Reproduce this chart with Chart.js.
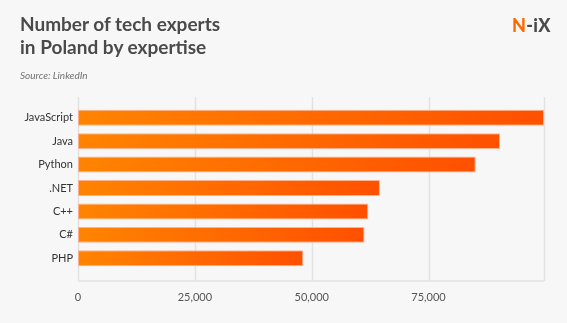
<!DOCTYPE html>
<html>
<head>
<meta charset="utf-8">
<script src="https://cdn.jsdelivr.net/npm/chart.js@4/dist/chart.umd.min.js"></script>
<style>
  html, body { margin: 0; padding: 0; background: #f7f7f7; }
  #wrap { position: relative; width: 567px; height: 323px; overflow: hidden; font-family: Lato, sans-serif; }
  #title { position: absolute; left: 20px; top: 12px; font-size: 19px; font-weight: bold; line-height: 23px; color: #4a4a4a; }
  #source { position: absolute; left: 20px; top: 69px; font-size: 10px; font-style: italic; color: #707070; }
  #logo { position: absolute; left: 512px; top: 14px; font-size: 18px; font-weight: 900; color: #4a4a4a; letter-spacing: 0.3px; }
  #logo span { color: #ff6a00; }
  canvas { position: absolute; left: 0; top: 0; }
</style>
</head>
<body>
<div id="wrap">
  <canvas id="chart" width="567" height="323"></canvas>
  <div id="title">Number of tech experts<br>in Poland by expertise</div>
  <div id="source">Source: LinkedIn</div>
  <div id="logo"><span>N</span>-iX</div>
</div>
<script>
var categories = ["JavaScript", "Java", "Python", ".NET", "C++", "C#", "PHP"];
var experts = [99700, 90300, 85100, 64600, 62100, 61300, 48200];
var tickValues = [0, 25000, 50000, 75000];

// orange -> red-orange along each bar
function barGradient(context) {
    var chart = context.chart,
        area = chart.chartArea,
        xScale = chart.scales.x;
    if (!area || !xScale || context.dataIndex === undefined) {
        return "#ff6a00";
    }
    var x0 = xScale.getPixelForValue(0),
        x1 = xScale.getPixelForValue(experts[context.dataIndex]);
    var g = chart.ctx.createLinearGradient(x0, 0, x1, 0);
    g.addColorStop(0, "#ff8400");
    g.addColorStop(1, "#ff5000");
    return g;
}

// grid lines run a little past the bars at top and bottom
var gridPlugin = {
    id: "extendedGrid",
    beforeDatasetsDraw: function (chart) {
        var ctx = chart.ctx,
            area = chart.chartArea,
            xScale = chart.scales.x,
            top = area.top - 9,
            bottom = area.bottom + 11;
        ctx.save();
        ctx.strokeStyle = "#e2e2e2";
        ctx.lineWidth = 1.5;
        xScale.ticks.forEach(function (t) {
            var x = Math.round(xScale.getPixelForValue(t.value)) + 0.5;
            ctx.beginPath();
            ctx.moveTo(x, top);
            ctx.lineTo(x, bottom);
            ctx.stroke();
        });
        ctx.beginPath();
        ctx.moveTo(area.left, bottom);
        ctx.lineTo(area.right, bottom);
        ctx.stroke();
        ctx.restore();
    }
};

new Chart("chart", {
    type: "bar",
    data: {
        labels: categories,
        datasets: [{
            data: experts,
            backgroundColor: barGradient,
            borderColor: "rgba(255,170,130,0.9)",
            borderWidth: 1,
            borderSkipped: false,
            barPercentage: 0.68,
            categoryPercentage: 1
        }]
    },
    options: {
        indexAxis: "y",
        responsive: false,
        animation: false,
        layout: { padding: { left: 0, right: 23, top: 106, bottom: 0 } },
        plugins: { legend: { display: false }, tooltip: { enabled: false } },
        scales: {
            x: {
                min: 0,
                max: experts[0],
                afterBuildTicks: function (scale) {
                    scale.ticks = tickValues.concat([experts[0]]).map(function (v) { return { value: v }; });
                },
                afterFit: function (scale) { scale.height = 53; },
                grid: { display: false, drawTicks: false },
                border: { display: false },
                ticks: {
                    padding: 21,
                    maxRotation: 0,
                    autoSkip: false,
                    color: "#555",
                    font: { family: "Lato", size: 11 },
                    callback: function (v) {
                        return tickValues.indexOf(v) >= 0 ? v.toLocaleString("en-US") : "";
                    }
                }
            },
            y: {
                afterFit: function (scale) { scale.width = 78; },
                grid: { display: false, drawTicks: false },
                border: { display: false },
                ticks: {
                    padding: 5,
                    color: "#333",
                    font: { family: "Lato", size: 11 }
                }
            }
        }
    },
    plugins: [gridPlugin]
});
</script>
</body>
</html>
